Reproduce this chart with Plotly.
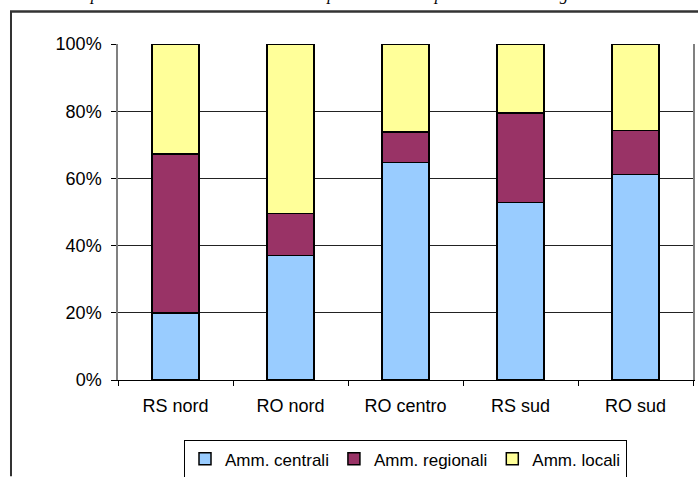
import plotly.graph_objects as go

categories = ["RS nord", "RO nord", "RO centro", "RS sud", "RO sud"]
amm_centrali = [20.0, 37.1, 64.8, 52.9, 61.1]
amm_regionali = [47.2, 12.5, 9.0, 26.6, 13.2]
amm_locali = [32.8, 50.4, 26.2, 20.5, 25.7]
series_names = ["Amm. centrali", "Amm. regionali", "Amm. locali"]
y_ticks = [0, 20, 40, 60, 80, 100]
y_tick_labels = ["0%", "20%", "40%", "60%", "80%", "100%"]
title_text = ("Tav. 5 – Composizione delle risorse nei comuni "
              "per tre aree di spesa e il livello di governo")

W, H = 698, 477
L, R, T, B = 118, 5, 43.5, 96.5
PW, PH = W - L - R, H - T - B

def px_x(p):
    return (p - L) / PW

def px_y(p):
    return (H - B - p) / PH

colors = ["#99CCFF", "#993366", "#FFFF99"]
fig = go.Figure()
for name, vals, col in zip(series_names, [amm_centrali, amm_regionali, amm_locali], colors):
    fig.add_trace(go.Bar(
        x=categories, y=vals, name=name,
        marker=dict(color=col, line=dict(color="#000000", width=1.5)),
    ))

font = "Liberation Sans, Arial, sans-serif"
border = dict(color="#333333", width=2)
frame_path = "M {:.5f},{:.5f} L {:.5f},{:.5f} L {:.5f},{:.5f}".format(
    px_x(11), px_y(477), px_x(11), px_y(11), px_x(698), px_y(11))
fig.update_layout(
    template="none",
    width=W, height=H,
    margin=dict(l=L, r=R, t=T, b=B, pad=0, autoexpand=False),
    barmode="stack", barnorm="percent", bargap=0.595,
    paper_bgcolor="white", plot_bgcolor="white",
    font=dict(family=font, size=18, color="#000000"),
    showlegend=True,
    legend=dict(
        orientation="h", x=0.5, xanchor="center",
        y=px_y(441), yanchor="top", traceorder="normal",
        bordercolor="#000000", borderwidth=1, bgcolor="white",
        font=dict(family=font, size=17, color="#000000"),
        itemclick=False, tracegroupgap=0,
    ),
    xaxis=dict(
        type="category", showgrid=False, automargin=False,
        showline=True, linecolor="#000000", linewidth=1,
        ticks="outside", tickson="boundaries", ticklen=5, tickcolor="#000000",
        tickfont=dict(family=font, size=18, color="#000000"),
        ticklabelstandoff=9,
    ),
    yaxis=dict(
        range=[0, 100], tickvals=y_ticks, ticktext=y_tick_labels, automargin=False,
        showgrid=True, gridcolor="#222222", gridwidth=1,
        showline=True, linecolor="#808080", linewidth=1.5, mirror=True,
        ticks="outside", ticklen=5, tickcolor="#000000",
        tickfont=dict(family=font, size=18, color="#000000"),
        ticklabelstandoff=6, zeroline=False,
    ),
    shapes=[
        dict(type="path", xref="paper", yref="paper", path=frame_path,
             line=border, fillcolor="rgba(0,0,0,0)", layer="above"),
        dict(type="rect", xref="paper", yref="paper",
             x0=px_x(10), x1=px_x(698), y0=px_y(12), y1=px_y(10),
             line=dict(width=0), fillcolor="#333333", layer="above"),
    ],
    annotations=[dict(
        text="<i>" + title_text + "</i>", xref="paper", yref="paper",
        x=px_x(1), xanchor="left", y=px_y(4), yanchor="bottom",
        showarrow=False, borderpad=0, bgcolor="rgba(0,0,0,0)",
        font=dict(family="Liberation Serif, Times New Roman, serif", size=17, color="#000000"),
    )],
)

fig.write_html(
    "out.html",
    config={"displayModeBar": False},
    post_script="document.body.style.margin='0';document.body.style.overflow='hidden';",
)
